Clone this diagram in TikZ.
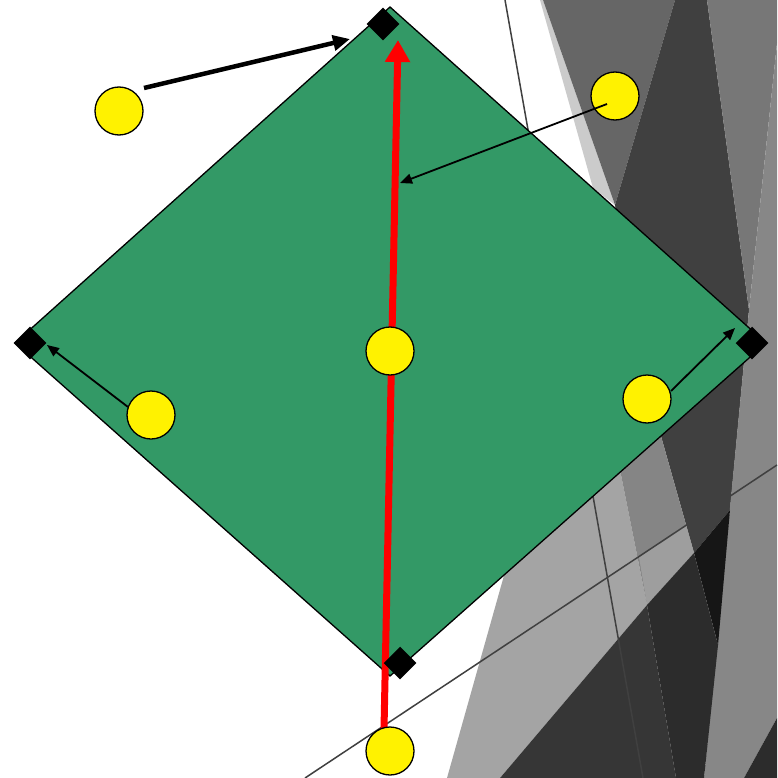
\documentclass[tikz,border=0pt]{standalone}
\usetikzlibrary{arrows.meta}
\definecolor{gCB}{HTML}{CBCBCB}
\definecolor{g66}{HTML}{666666}
\definecolor{g40}{HTML}{404040}
\definecolor{g77}{HTML}{777777}
\definecolor{g88}{HTML}{878787}
\definecolor{gA4}{HTML}{A4A4A4}
\definecolor{gA0}{HTML}{9E9E9E}
\definecolor{g85}{HTML}{858585}
\definecolor{g16}{HTML}{161616}
\definecolor{g36}{HTML}{363636}
\definecolor{g2c}{HTML}{2C2C2C}
\definecolor{field}{HTML}{339966}
\tikzset{
  bgline/.style={draw=g40, line width=1.5pt},
  fieldshape/.style={fill=field, draw=black, line width=1.3pt, line join=miter},
  basebox/.style={draw=none, fill=black, minimum size=23pt, inner sep=0pt, rotate=45},
  ball/.style={circle, fill=yellow, draw=black, line width=1.3pt, minimum size=48pt, inner sep=0pt},
  redarrow/.style={draw=red, line width=7pt, -{Triangle[length=22pt,width=24pt]}},
  thickarrow/.style={draw=black, line width=4.5pt, -{Triangle[length=17pt,width=15pt]}},
  thinarrow/.style={draw=black, line width=1.8pt, -{Triangle[length=12pt,width=10pt]}}
}
\begin{document}
\begin{tikzpicture}[x=1pt,y=-1pt]
\useasboundingbox (0,0) rectangle (777,778);
\fill[white] (0,0) rectangle (777,778);
% background facets
\fill[gCB] (540,0) -- (543,0) -- (615,205) -- (593,188) -- cycle;
\fill[g66] (543,0) -- (675,0) -- (615,205) -- cycle;
\fill[g40] (675,0) -- (707,0) -- (749,310) -- (730,510) -- (694,553) -- (655,415) -- (615,205) -- cycle;
\fill[g77] (707,0) -- (777,0) -- (777,43) -- (749,310) -- cycle;
\fill[g88] (777,43) -- (749,310) -- (704,778) -- (744,778) -- (777,718) -- cycle;
\fill[g2c] (744,778) -- (777,718) -- (777,778) -- cycle;
\fill[gA4] (514,540) -- (447,778) -- (500,778) -- (647,605) -- (610,420) -- cycle;
\fill[g85] (610,420) -- (647,605) -- (694,553) -- (655,415) -- cycle;
\fill[gA0] (639,557) -- (647,605) -- (694,553) -- (686,525) -- cycle;
\fill[g16] (694,553) -- (730,510) -- (718,645) -- cycle;
\fill[g36] (500,778) -- (647,605) -- (676,778) -- cycle;
\fill[g2c] (647,605) -- (694,553) -- (718,645) -- (704,778) -- (676,778) -- cycle;
\draw[bgline] (505,0) -- (643,778);
\draw[bgline] (305,778) -- (777,465);
% field
\coordinate (T) at (390,7);
\coordinate (R) at (766,343);
\coordinate (B) at (390,676);
\coordinate (L) at (15,343);
\draw[fieldshape] (T) -- (R) -- (B) -- (L) -- cycle;
% red arrow
\coordinate (rs) at (384,729);
\coordinate (re) at (398,40);
\coordinate (rm) at (400,183);
\draw[redarrow] (rs) -- (re);
% bases
\node[basebox] (s1) at (383,24) {};
\node[basebox] (s2) at (30,343) {};
\node[basebox] (s3) at (752,343) {};
\node[basebox] (s4) at (400,663) {};
% players
\node[ball] (c1) at (119,111) {};
\node[ball] (c2) at (615,96) {};
\node[ball] (c3) at (390,351) {};
\node[ball] (c4) at (151,415) {};
\node[ball] (c5) at (647,399) {};
\node[ball] (c6) at (390,751) {};
% arrows
\coordinate (a1s) at (144,88);
\coordinate (a1e) at (350,39);
\draw[thickarrow] (a1s) -- (a1e);
\coordinate (a3s) at (607,104);
\draw[thinarrow] (a3s) -- (rm);
\coordinate (a4s) at (128,407);
\coordinate (a4e) at (47,345);
\draw[thinarrow] (a4s) -- (a4e);
\coordinate (a5s) at (671,391);
\coordinate (a5e) at (735,328);
\draw[thinarrow] (a5s) -- (a5e);
\end{tikzpicture}
\end{document}
